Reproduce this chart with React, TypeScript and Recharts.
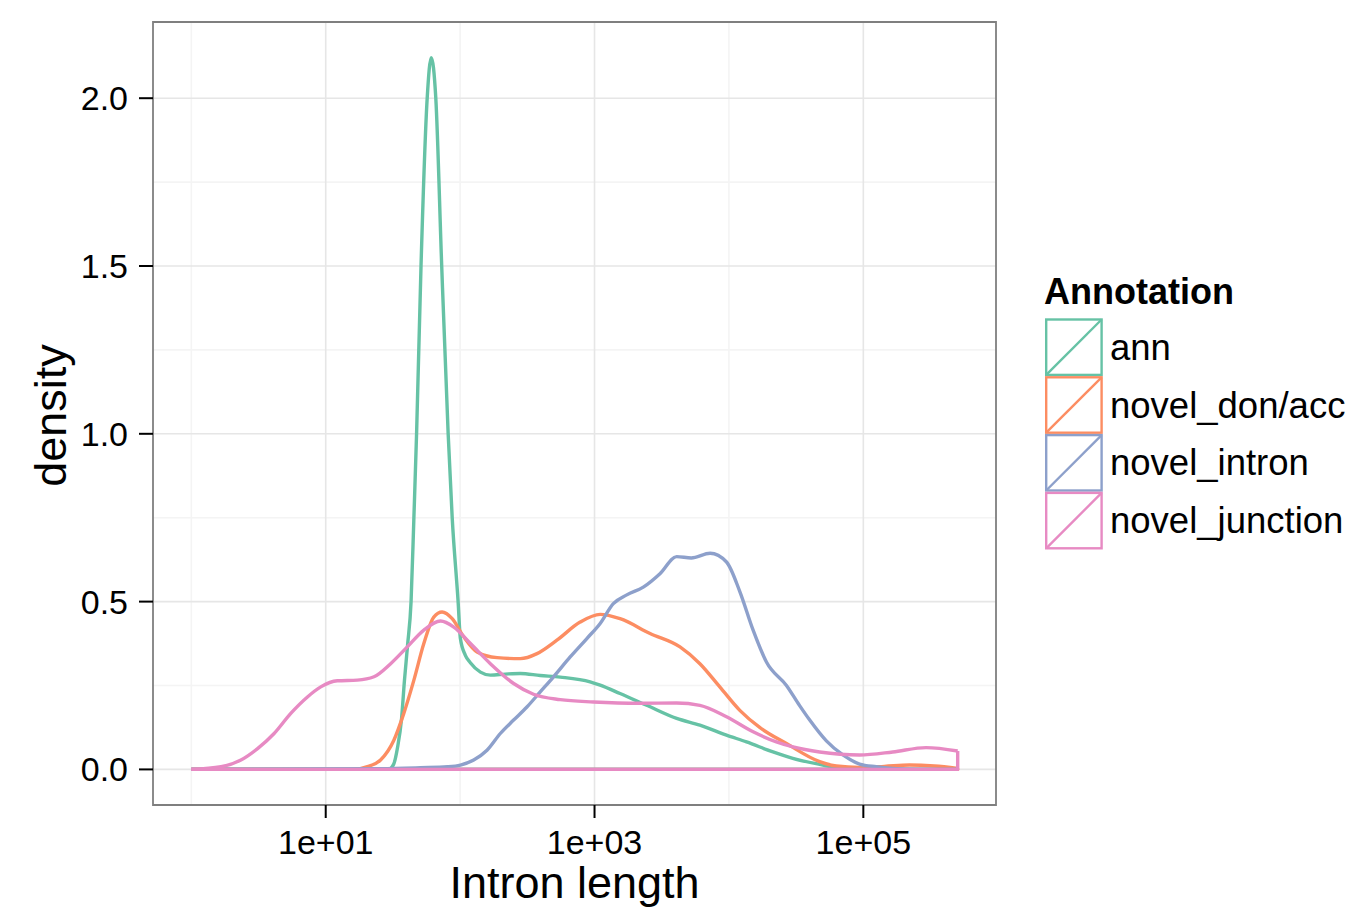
import React from 'react';
import { LineChart, Line, XAxis, YAxis, CartesianGrid, ReferenceArea, Label } from 'recharts';

const FONT = '"Liberation Sans", Arial, Helvetica, sans-serif';

// x values are log10(intron length); y values are density
const annX = [0, 1.468, 1.505, 1.535, 1.564, 1.586, 1.609, 1.635, 1.656, 1.676, 1.709, 1.755, 1.785, 1.819, 1.863, 1.911, 1.941, 1.985, 2.002, 2.039, 2.076, 2.151, 2.225, 2.336, 2.447, 2.596, 2.745, 2.967, 3.042, 3.19, 3.388, 3.611, 3.784, 3.982, 4.131, 4.328, 4.475, 4.675, 4.846, 5.046, 5.702];
const annY = [0, 0, 0.015, 0.067, 0.15, 0.266, 0.37, 0.5, 0.75, 1.0, 1.5, 2.0, 2.121, 2.0, 1.5, 1.0, 0.75, 0.5, 0.39, 0.34, 0.318, 0.29, 0.281, 0.284, 0.286, 0.28, 0.275, 0.261, 0.251, 0.226, 0.191, 0.152, 0.132, 0.102, 0.082, 0.052, 0.033, 0.015, 0.003, 0, 0];

const donAccX = [0, 1.208, 1.31, 1.408, 1.507, 1.581, 1.656, 1.73, 1.804, 1.866, 1.941, 2.027, 2.126, 2.275, 2.448, 2.572, 2.72, 2.893, 3.042, 3.19, 3.413, 3.636, 3.784, 3.932, 4.081, 4.229, 4.428, 4.675, 4.799, 4.972, 5.157, 5.343, 5.529, 5.702];
const donAccY = [0, 0, 0.008, 0.028, 0.087, 0.167, 0.266, 0.375, 0.454, 0.469, 0.449, 0.395, 0.35, 0.333, 0.33, 0.345, 0.385, 0.439, 0.462, 0.449, 0.405, 0.365, 0.315, 0.246, 0.176, 0.125, 0.077, 0.023, 0.01, 0.006, 0.009, 0.013, 0.01, 0.003];

const intronX = [0, 1.408, 1.705, 1.906, 2.002, 2.101, 2.2, 2.299, 2.398, 2.497, 2.596, 2.695, 2.819, 2.943, 3.042, 3.14, 3.24, 3.363, 3.487, 3.611, 3.72, 3.86, 3.982, 4.081, 4.18, 4.279, 4.428, 4.526, 4.601, 4.725, 4.848, 4.972, 5.096, 5.217, 5.417, 5.702];
const intronY = [0, 0.002, 0.005, 0.008, 0.013, 0.028, 0.057, 0.107, 0.147, 0.186, 0.231, 0.276, 0.335, 0.39, 0.435, 0.494, 0.52, 0.543, 0.583, 0.634, 0.63, 0.644, 0.618, 0.53, 0.415, 0.32, 0.25, 0.19, 0.147, 0.085, 0.043, 0.016, 0.008, 0.003, 0, 0];

const junctionX = [0, 0.221, 0.369, 0.493, 0.616, 0.74, 0.864, 0.963, 1.087, 1.235, 1.359, 1.483, 1.607, 1.73, 1.854, 1.953, 2.077, 2.225, 2.398, 2.546, 2.745, 2.992, 3.339, 3.611, 3.784, 3.982, 4.18, 4.353, 4.477, 4.675, 4.972, 5.219, 5.467, 5.702];
const junctionY = [0, 0.008, 0.028, 0.062, 0.107, 0.167, 0.216, 0.246, 0.264, 0.266, 0.276, 0.315, 0.365, 0.415, 0.442, 0.424, 0.375, 0.315, 0.256, 0.224, 0.208, 0.201, 0.197, 0.198, 0.191, 0.157, 0.112, 0.082, 0.067, 0.052, 0.043, 0.052, 0.065, 0.055];

const seriesNames = ['ann', 'novel_don/acc', 'novel_intron', 'novel_junction'];
const seriesColors = ['#66C2A5', '#FC8D62', '#8DA0CB', '#E78AC3'];
const seriesX = [annX, donAccX, intronX, junctionX];
const seriesY = [annY, donAccY, intronY, junctionY];

const xTicks = [1, 3, 5];
const xMinorTicks = [0, 2, 4];
const yTicks = [0, 0.5, 1.0, 1.5, 2.0];
const yMinorTicks = [0.25, 0.75, 1.25, 1.75];

const series = seriesNames.map((name, i) => {
  const data = seriesX[i].map((x, j) => ({ x, y: seriesY[i][j] }));
  const first = data[0];
  const last = data[data.length - 1];
  // outline closes along the baseline, like an unfilled density polygon
  const closure = [
    { x: last.x, y: last.y },
    { x: last.x, y: 0 },
    { x: first.x, y: 0 },
    { x: first.x, y: first.y },
  ];
  return { name, color: seriesColors[i], data, closure };
});

const allX = seriesX.flat();
const allY = seriesY.flat();
const xMin = Math.min(...allX);
const xMax = Math.max(...allX);
const yMin = Math.min(0, ...allY);
const yMax = Math.max(...allY);
const xPad = (xMax - xMin) * 0.05;
const yPad = (yMax - yMin) * 0.05;
const xDomain = [xMin - xPad, xMax + xPad];
const yDomain = [yMin - yPad, yMax + yPad];

const LINE_W = 3.4;

const XTitle = (props: any) => {
  const vb = props.viewBox;
  return (
    <text x={vb.x + vb.width / 2} y={vb.y + 93} textAnchor="middle" fontSize={45} fontFamily={FONT} fill="#000">
      Intron length
    </text>
  );
};

const YTitle = (props: any) => {
  const vb = props.viewBox;
  return (
    <text
      transform={`translate(${vb.x + 66}, ${vb.y + vb.height / 2 + 2}) rotate(-90)`}
      textAnchor="middle"
      fontSize={45}
      fontFamily={FONT}
      fill="#000"
    >
      density
    </text>
  );
};

const LegendBox = () => {
  const keySize = 57.8;
  const top = 318.3;
  const left = 1045;
  return (
    <svg
      width={1352}
      height={909}
      style={{ position: 'absolute', left: 0, top: 0, pointerEvents: 'none' }}
    >
      <text x={1044} y={303.5} fontSize={36} fontWeight="bold" fontFamily={FONT} fill="#000">
        Annotation
      </text>
      {series.map((s, i) => {
        const y = top + i * keySize;
        return (
          <g key={s.name}>
            <rect x={left + 1.2} y={y + 1.2} width={keySize - 2.4} height={keySize - 2.4} fill="#fff" stroke={s.color} strokeWidth={2.4} />
            <line x1={left + 1.2} y1={y + keySize - 1.2} x2={left + keySize - 1.2} y2={y + 1.2} stroke={s.color} strokeWidth={2.4} />
            <text x={1110} y={y + keySize / 2 + 12.5} fontSize={36.5} fontFamily={FONT} fill="#000">
              {s.name}
            </text>
          </g>
        );
      })}
    </svg>
  );
};

export default function App() {
  const lines = series.flatMap((s) => [
    <Line
      key={s.name + '-curve'}
      data={s.data}
      dataKey="y"
      type="monotone"
      stroke={s.color}
      strokeWidth={LINE_W}
      dot={false}
      activeDot={false}
      isAnimationActive={false}
      strokeLinejoin="round"
    />,
    <Line
      key={s.name + '-base'}
      data={s.closure}
      dataKey="y"
      type="linear"
      stroke={s.color}
      strokeWidth={LINE_W}
      dot={false}
      activeDot={false}
      isAnimationActive={false}
      strokeLinejoin="round"
    />,
  ]);

  return (
    <div style={{ position: 'absolute', left: 0, top: 0, width: 1352, height: 909, background: '#fff', fontFamily: FONT }}>
      <LineChart width={1352} height={909} margin={{ top: 22, right: 356, bottom: 0, left: 0 }}>
        <CartesianGrid
          horizontalValues={yMinorTicks}
          verticalValues={xMinorTicks}
          stroke="#F4F4F4"
          strokeWidth={1.6}
        />
        <CartesianGrid
          horizontalValues={yTicks}
          verticalValues={xTicks}
          stroke="#E6E6E6"
          strokeWidth={1.6}
        />
        <XAxis
          type="number"
          dataKey="x"
          domain={xDomain}
          allowDataOverflow
          ticks={xTicks}
          interval={0}
          tickFormatter={(v: number) => `1e+0${v}`}
          height={104}
          tickSize={13}
          tickMargin={12}
          axisLine={false}
          tickLine={{ stroke: '#000', strokeWidth: 2 }}
          tick={{ fill: '#000', fontSize: 34, fontFamily: FONT }}
        >
          <Label content={XTitle} />
        </XAxis>
        <YAxis
          type="number"
          domain={yDomain}
          allowDataOverflow
          ticks={yTicks}
          interval={0}
          tickFormatter={(v: number) => v.toFixed(1)}
          width={153}
          tickSize={14}
          tickMargin={11}
          axisLine={false}
          tickLine={{ stroke: '#000', strokeWidth: 2 }}
          tick={{ fill: '#000', fontSize: 34, fontFamily: FONT }}
        >
          <Label content={YTitle} />
        </YAxis>
        {lines}
        <ReferenceArea
          x1={xDomain[0]}
          x2={xDomain[1]}
          y1={yDomain[0]}
          y2={yDomain[1]}
          fill="none"
          stroke="#7F7F7F"
          strokeWidth={1.8}
          ifOverflow="visible"
        />
      </LineChart>
      <LegendBox />
    </div>
  );
}
